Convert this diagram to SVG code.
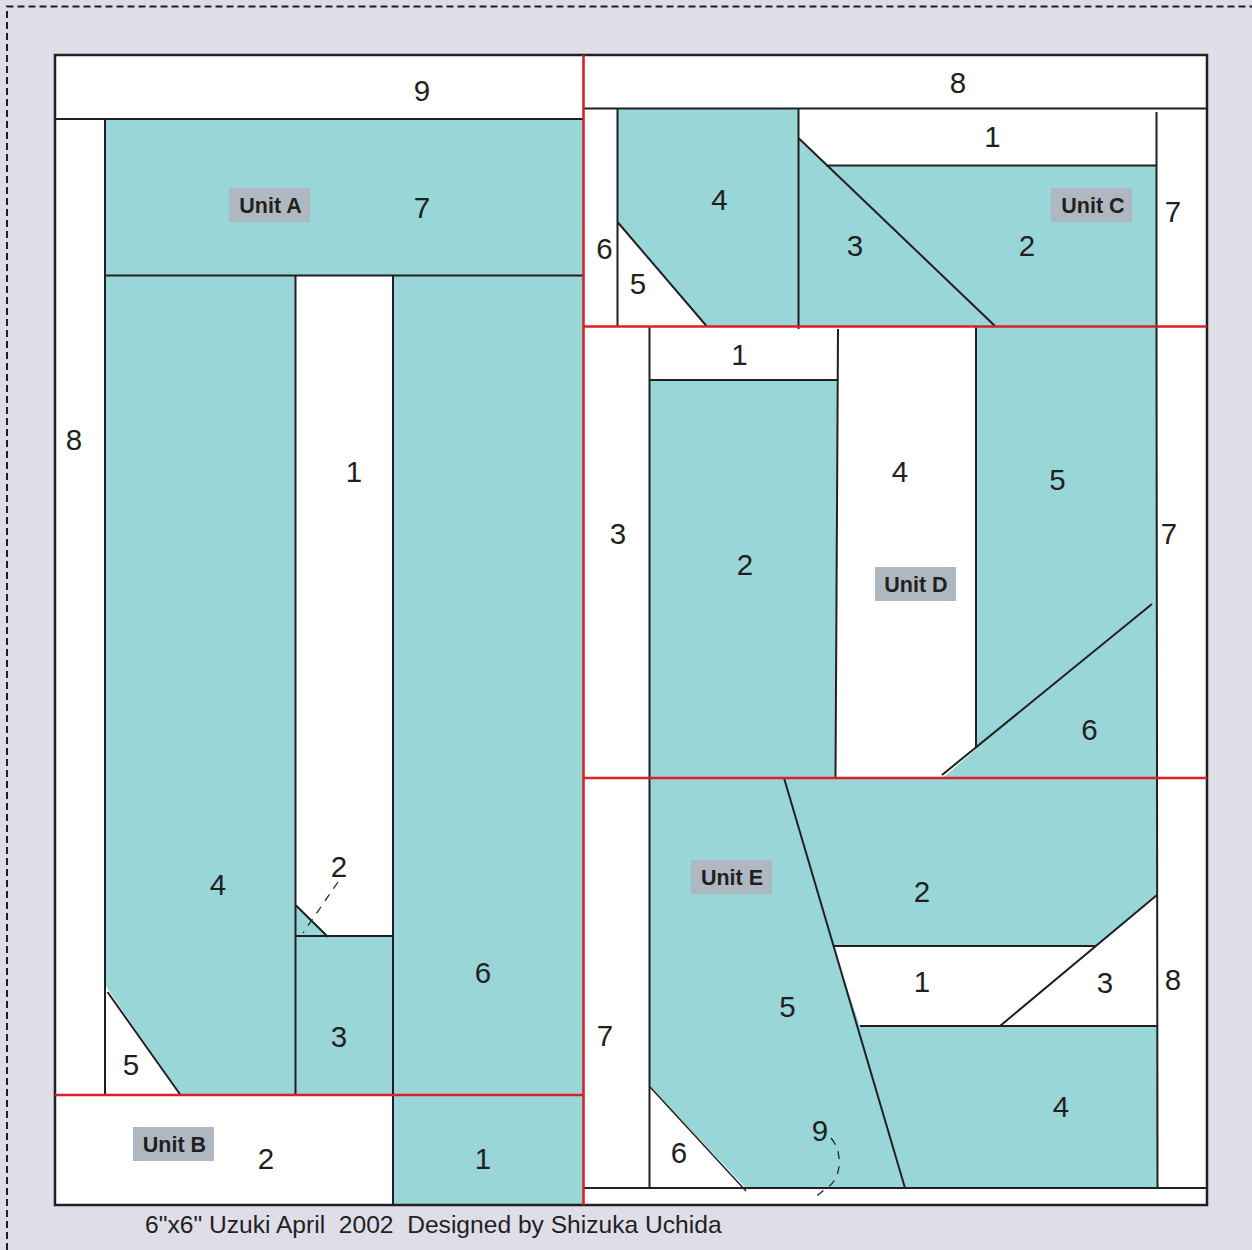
<svg xmlns="http://www.w3.org/2000/svg" width="1252" height="1250" viewBox="0 0 1252 1250">
<style>
.t{fill:#98D6D8;stroke:none}
.w{fill:#fff;stroke:none}
.l{fill:none;stroke:#231F20;stroke-width:2}
.r{fill:none;stroke:#DA2128;stroke-width:2.600}
.d{fill:none;stroke:#231F20;stroke-width:1.200;stroke-dasharray:8 7}
.n{font-family:"Liberation Sans",Arial,sans-serif;font-size:29.5px;fill:#231F20;text-anchor:middle}
.u{font-family:"Liberation Sans",Arial,sans-serif;font-size:21.500px;font-weight:bold;fill:#231F20;text-anchor:middle}
.b{fill:#AFB8C1}
</style>
<rect x="0" y="0" width="1252" height="1250" fill="#DEDDE8"/>
<path d="M7 1250V6.500H1252" fill="none" stroke="#231F20" stroke-width="2" stroke-dasharray="7 4"/>
<rect x="55" y="55" width="1152" height="1150" fill="#fff"/>
<g id="fills">
<path class="t" d="M105 119H583V1205H393V1095H181L105 985Z"/>
<path class="w" d="M296 276H393V936H327L296 905Z"/>
<path class="t" d="M617 108H798V326H706L617 222Z"/>
<path class="t" d="M798 138L826 165H1156V326H798Z"/>
<path class="t" d="M650 380H837L835 778H650Z"/>
<path class="t" d="M976 327H1156L1157 778H943L976 749Z"/>
<path class="t" d="M650 778H1157V895L1095 946H833L860 1026H1157V1187H745L650 1087Z"/>
</g>
<g id="connectors">
<rect class="l" x="55" y="55" width="1152" height="1150" style="stroke-width:2.500"/>
<path class="l" d="M55 119H583M105 119V1095M105 275.500H583M295.500 275.500V1095M393 275.500V1205M295.500 936H393M295.500 905L328 937M107.500 992L180.500 1095"/>
<path class="l" d="M584 108.500H1207M617.500 108.500V326M798.500 108.500V329M798.500 138L995 326M826 165.500H1157M1156.500 112V326M617.500 222L706.500 326"/>
<path class="l" d="M649.500 327V778M650 380H838M838 329L835.500 778M976 327V748M1156.500 326L1157.500 1188M1152 604L942 775"/>
<path class="l" d="M649.500 778V1188M784 778L905 1188M833 946H1096M860 1026H1157M1157 895L1000 1026M584 1188H1207"/>
<path class="l" d="M650 1087L746 1191" style="stroke-width:1.500"/>
<path class="r" d="M583.500 55V1205M55 1095H583.500M583.500 326.500H1207M583.500 778H1207"/>
<path class="d" d="M338 882L303 933"/>
<path class="d" d="M831 1138C843 1152 843 1180 824 1190L814 1198"/>
</g>
<g id="unit-a"><rect class="b" x="229" y="188" width="81" height="34"/><text class="u" x="270.500" y="213">Unit A</text>
<text class="n" x="422" y="101">9</text><text class="n" x="74" y="450">8</text><text class="n" x="422" y="218">7</text><text class="n" x="354" y="482">1</text><text class="n" x="339" y="877">2</text><text class="n" x="218" y="895">4</text><text class="n" x="483" y="983">6</text><text class="n" x="339" y="1047">3</text><text class="n" x="131" y="1075">5</text></g>
<g id="unit-b"><rect class="b" x="133" y="1127" width="81" height="34"/><text class="u" x="174.500" y="1152">Unit B</text>
<text class="n" x="266" y="1169">2</text><text class="n" x="483" y="1169">1</text></g>
<g id="unit-c"><rect class="b" x="1051" y="188" width="81" height="34"/><text class="u" x="1093" y="213">Unit C</text>
<text class="n" x="958" y="93">8</text><text class="n" x="992.500" y="147">1</text><text class="n" x="719.500" y="210">4</text><text class="n" x="1173" y="222">7</text><text class="n" x="855" y="256">3</text><text class="n" x="1027" y="256">2</text><text class="n" x="604.500" y="259">6</text><text class="n" x="638" y="294">5</text></g>
<g id="unit-d"><rect class="b" x="875" y="567" width="81" height="34"/><text class="u" x="916" y="592">Unit D</text>
<text class="n" x="739.500" y="365">1</text><text class="n" x="900" y="482">4</text><text class="n" x="1057.500" y="490">5</text><text class="n" x="618" y="544">3</text><text class="n" x="1169" y="544">7</text><text class="n" x="745" y="575">2</text><text class="n" x="1089.500" y="740">6</text></g>
<g id="unit-e"><rect class="b" x="691" y="860" width="81" height="34"/><text class="u" x="732" y="885">Unit E</text>
<text class="n" x="922" y="902">2</text><text class="n" x="922" y="992">1</text><text class="n" x="1173" y="990">8</text><text class="n" x="1105" y="993">3</text><text class="n" x="787.500" y="1017">5</text><text class="n" x="605" y="1046">7</text><text class="n" x="1061" y="1117">4</text><text class="n" x="820" y="1141">9</text><text class="n" x="679" y="1162.500">6</text></g>
<text x="145" y="1233" font-family="'Liberation Sans',Arial,sans-serif" font-size="24.600px" fill="#231F20" xml:space="preserve">6"x6" Uzuki April  2002  Designed by Shizuka Uchida</text>
</svg>
